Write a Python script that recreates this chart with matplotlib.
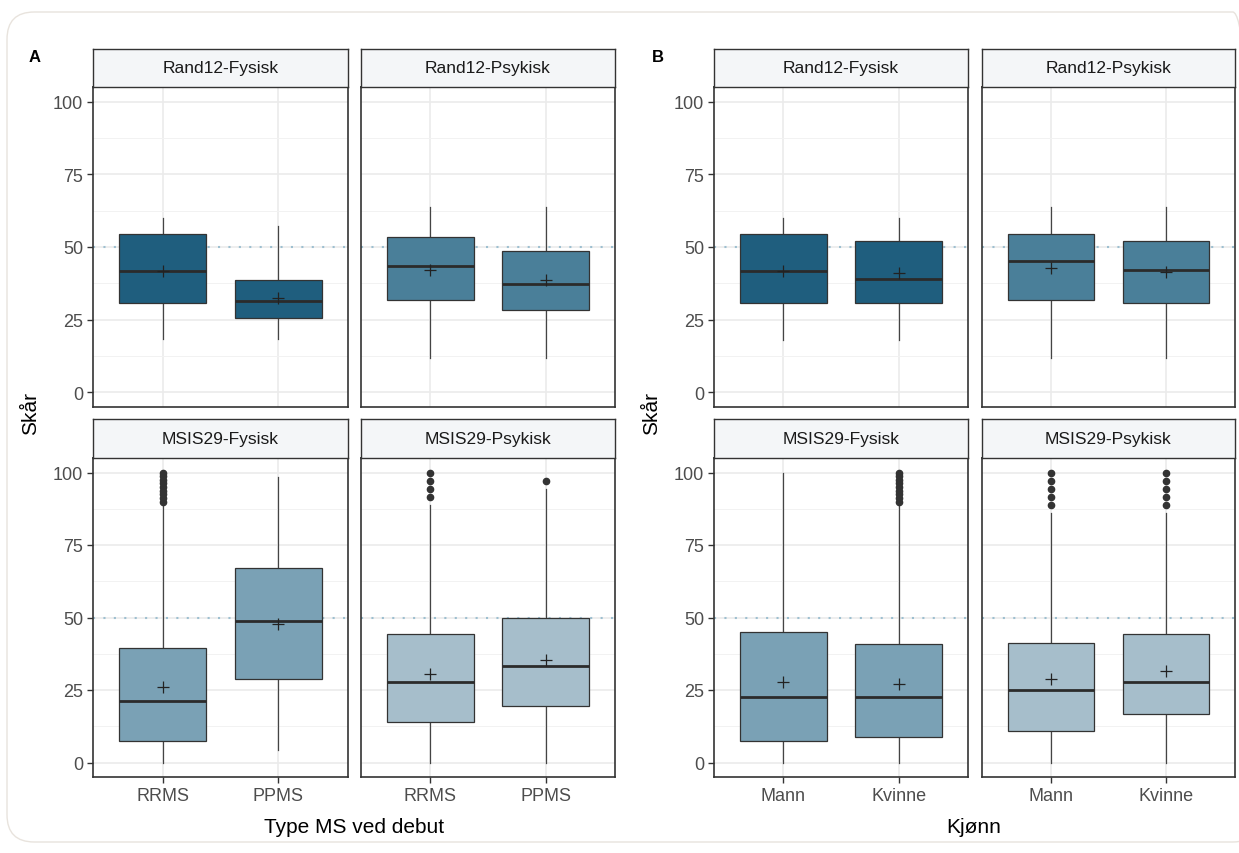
import matplotlib
matplotlib.use("Agg")
import matplotlib.pyplot as plt
from matplotlib.patches import FancyBboxPatch

plt.rcParams["font.family"] = ["Liberation Sans", "DejaVu Sans"]

W, H = 1239, 854

facets = ["Rand12-Fysisk", "Rand12-Psykisk", "MSIS29-Fysisk", "MSIS29-Psykisk"]
facet_colors = ["#1F5E7E", "#4A7F99", "#7AA1B5", "#A6BECB"]

# Panel A: type MS at onset
groups_a = ["RRMS", "PPMS"]
a_q1 = [[30.9, 25.7], [31.7, 28.5], [7.3, 28.8], [13.8, 19.4]]
a_med = [[41.9, 31.3], [43.6, 37.2], [21.3, 48.7], [27.7, 33.3]]
a_q3 = [[54.6, 38.8], [53.3, 48.7], [39.5, 67.2], [44.2, 49.8]]
a_wlo = [[18.3, 18.3], [11.9, 11.9], [0.0, 4.2], [0.0, 0.0]]
a_whi = [[59.8, 57.3], [63.6, 63.6], [88.75, 98.4], [88.9, 94.4]]
a_mean = [[41.8, 32.5], [42.1, 38.5], [26.1, 47.9], [30.4, 35.2]]
a_out = [
    [[], []],
    [[], []],
    [[90.0, 91.25, 92.5, 93.75, 95.0, 96.25, 97.5, 98.75, 100.0], []],
    [[91.7, 94.4, 97.2, 100.0], [97.2]],
]

# Panel B: sex
groups_b = ["Mann", "Kvinne"]
b_q1 = [[30.9, 30.9], [31.7, 30.9], [7.3, 8.8], [10.9, 16.7]]
b_med = [[41.9, 39.0], [45.1, 42.2], [22.5, 22.5], [25.0, 27.7]]
b_q3 = [[54.5, 51.9], [54.5, 51.9], [45.0, 40.9], [41.3, 44.2]]
b_wlo = [[18.2, 18.2], [11.9, 11.9], [0.0, 0.0], [0.0, 0.0]]
b_whi = [[59.8, 59.8], [63.6, 63.6], [100.0, 88.75], [86.1, 86.1]]
b_mean = [[41.6, 41.2], [42.7, 41.5], [27.9, 27.1], [28.7, 31.7]]
b_out = [
    [[], []],
    [[], []],
    [[], [90.0, 91.25, 92.5, 93.75, 95.0, 96.25, 97.5, 98.75, 100.0]],
    [[88.9, 91.7, 94.4, 97.2, 100.0], [88.9, 91.7, 94.4, 97.2, 100.0]],
]

yticks = [0, 25, 50, 75, 100]


def rect(x0, y0, x1, y1):
    return [x0 / W, 1 - y1 / H, (x1 - x0) / W, (y1 - y0) / H]


fig = plt.figure(figsize=(W / 100, H / 100), dpi=100)

# card outline (runs off the right edge)
card = FancyBboxPatch((7 / W, 1 - 843 / H), (1260 - 7) / W, (843 - 13) / H,
                      boxstyle="round,pad=0,rounding_size=0.022",
                      transform=fig.transFigure, fc="none", ec="#E8E3DD", lw=1.0,
                      mutation_aspect=W / H)
fig.patches.append(card)


def draw_panel(cols_x, groups, q1, med, q3, wlo, whi, mean, out):
    rows_y = [(50, 88, 408), (420, 459, 778)]
    for fi, facet in enumerate(facets):
        r, c = divmod(fi, 2)
        x0, x1 = cols_x[c]
        s0, a0, a1 = rows_y[r]
        ax = fig.add_axes(rect(x0, a0, x1, a1))
        sx = fig.add_axes(rect(x0, s0, x1, a0))
        sx.set_facecolor("#F4F6F8")
        sx.set_xticks([])
        sx.set_yticks([])
        for sp in sx.spines.values():
            sp.set_color("#333333")
            sp.set_linewidth(1.0)
        sx.text(0.5, 0.5, facet, ha="center", va="center", fontsize=12.5,
                color="#1a1a1a", transform=sx.transAxes)

        stats = []
        for gi, g in enumerate(groups):
            stats.append(dict(label=g, q1=q1[fi][gi], med=med[fi][gi], q3=q3[fi][gi],
                              whislo=wlo[fi][gi], whishi=whi[fi][gi],
                              mean=mean[fi][gi], fliers=out[fi][gi]))
        ax.axhline(50, color="#9DBFD0", lw=1.5, ls=(0, (1, 4)), zorder=1.5)
        bp = ax.bxp(stats, positions=[1, 2], widths=0.75, patch_artist=True,
                    showmeans=True, showcaps=False, manage_ticks=False,
                    boxprops=dict(facecolor=facet_colors[fi], edgecolor="#333333", lw=0.9),
                    whiskerprops=dict(color="#444444", lw=0.9),
                    medianprops=dict(color="#2b2b2b", lw=2.0),
                    meanprops=dict(marker="+", markersize=9, markeredgecolor="#222222",
                                   markeredgewidth=0.9),
                    flierprops=dict(marker="o", markersize=4.5, markerfacecolor="#333333",
                                    markeredgecolor="#333333"))
        for b in bp["boxes"]:
            b.set_zorder(3)
        for m in bp["medians"] + bp["means"]:
            m.set_zorder(4)

        ax.set_xlim(0.4, 2.6)
        ax.set_ylim(-5, 105)
        ax.set_yticks(yticks)
        ax.set_yticks([12.5, 37.5, 62.5, 87.5], minor=True)
        ax.set_xticks([1, 2])
        ax.grid(which="major", color="#EBEBEB", lw=1.2, zorder=0)
        ax.grid(which="minor", axis="y", color="#F2F2F2", lw=0.7, zorder=0)
        ax.set_axisbelow(True)
        ax.tick_params(which="minor", length=0)
        ax.tick_params(which="major", length=4, width=1.0, color="#333333",
                       labelsize=13, labelcolor="#4D4D4D", pad=3)
        for sp in ax.spines.values():
            sp.set_color("#333333")
            sp.set_linewidth(1.2)
        if r == 1:
            ax.set_xticklabels(groups)
        else:
            ax.set_xticklabels([])
            ax.tick_params(axis="x", length=0)
        if c == 0:
            ax.set_yticklabels([str(t) for t in yticks])
        else:
            ax.set_yticklabels([])
            ax.tick_params(axis="y", length=0)


draw_panel([(93, 348), (361, 615)], groups_a, a_q1, a_med, a_q3, a_wlo, a_whi, a_mean, a_out)
draw_panel([(714, 968), (982, 1235)], groups_b, b_q1, b_med, b_q3, b_wlo, b_whi, b_mean, b_out)

fig.text(35 / W, 1 - 57 / H, "A", fontsize=12, fontweight="bold", ha="center", va="center")
fig.text(658 / W, 1 - 57 / H, "B", fontsize=12, fontweight="bold", ha="center", va="center")
fig.text(31 / W, 1 - 414 / H, "Skår", fontsize=15, rotation=90, ha="center", va="center")
fig.text(652 / W, 1 - 414 / H, "Skår", fontsize=15, rotation=90, ha="center", va="center")
fig.text(354 / W, 1 - 828 / H, "Type MS ved debut", fontsize=15, ha="center", va="center")
fig.text(974 / W, 1 - 828 / H, "Kjønn", fontsize=15, ha="center", va="center")

fig.savefig("out.png", dpi=100)
